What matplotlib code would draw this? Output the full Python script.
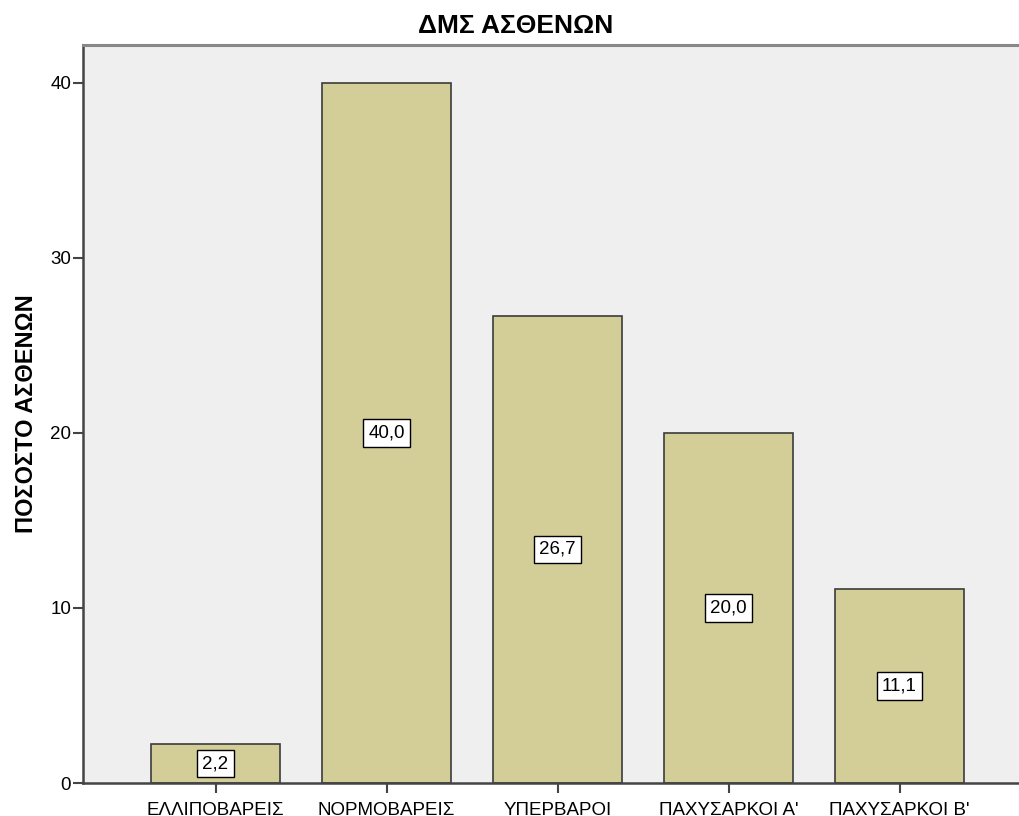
import matplotlib.pyplot as plt

categories = ["ΕΛΛΙΠΟΒΑΡΕΙΣ", "ΝΟΡΜΟΒΑΡΕΙΣ", "ΥΠΕΡΒΑΡΟΙ", "ΠΑΧΥΣΑΡΚΟΙ Α'", "ΠΑΧΥΣΑΡΚΟΙ Β'"]
values = [2.2, 40.0, 26.7, 20.0, 11.1]
yticks = [0, 10, 20, 30, 40]

plt.rcParams["font.family"] = ["Liberation Sans", "DejaVu Sans"]

W, H = 1019, 816
fig = plt.figure(figsize=(W / 100, H / 100), dpi=100)
# plot area runs past the right edge of the picture
ax = fig.add_axes([83 / W, (H - 783) / H, (1045 - 83) / W, (783 - 45) / H])
ax.set_facecolor("#efefef")

x = list(range(len(values)))
ax.bar(x, values, width=0.75, color="#d3ce97", edgecolor="#3c3c3c", linewidth=1.2, zorder=2)
for xi, v in zip(x, values):
    ax.text(xi, v / 2, f"{v:.1f}".replace(".", ","), ha="center", va="center",
            fontsize=13.5, zorder=3,
            bbox=dict(boxstyle="square,pad=0.28", fc="white", ec="black", lw=1))

ax.set_xlim(-0.775, (1045 - 215.5) / 171)
ax.set_ylim(0, 42.17)
ax.set_yticks(yticks)
ax.set_xticks(x)
ax.set_xticklabels(categories, fontsize=13.5)
ax.tick_params(axis="y", length=7, width=1.5, color="#444444", labelsize=13.5, pad=1.5)
ax.tick_params(axis="x", length=7, width=1.5, color="#444444", pad=7)

for s in ["left", "bottom"]:
    ax.spines[s].set_color("#444444")
    ax.spines[s].set_linewidth(1.8)
ax.spines["top"].set_color("#888888")
ax.spines["top"].set_linewidth(2.2)
ax.spines["right"].set_visible(False)

ax.set_ylabel("ΠΟΣΟΣΤΟ ΑΣΘΕΝΩΝ", fontsize=17, fontweight="bold", labelpad=9)
fig.text(516 / W, 1 - 26 / H, "ΔΜΣ ΑΣΘΕΝΩΝ", ha="center", va="center",
         fontsize=19, fontweight="bold")

fig.savefig("out.png", dpi=100)
